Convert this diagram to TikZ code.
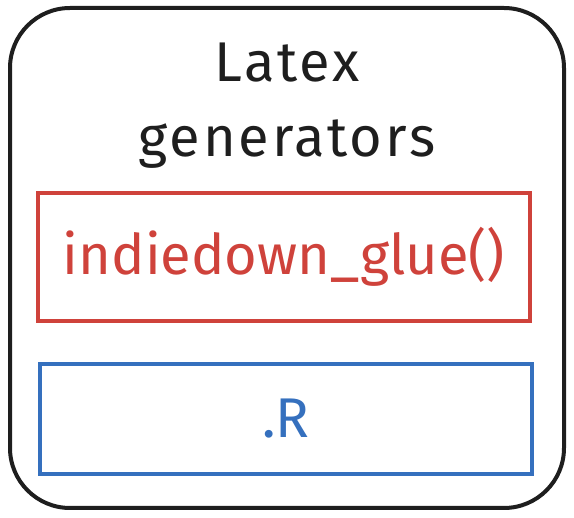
\documentclass[tikz,border=0pt]{standalone}
\usepackage{fontspec}
\setmainfont{Fira Sans}
\newfontfamily\wide[LetterSpace=5]{Fira Sans}
\usepackage{xcolor}
\usetikzlibrary{positioning}
\definecolor{inkblack}{HTML}{1E1E1E}
\definecolor{inkred}{HTML}{CF423B}
\definecolor{inkblue}{HTML}{3570BE}
\tikzset{%
  % boxes
  frame/.style={draw=inkblack, line width=4pt, rounded corners=60pt},
  box/.style={draw, line width=4pt, align=center, inner sep=0pt},
  gluebox/.style={box, draw=inkred, text=inkred},
  rbox/.style={box, draw=inkblue, text=inkblue},
  % text
  big/.style={font=\fontsize{56}{75}\selectfont},
  headline/.style={font=\wide\fontsize{56}{75}\selectfont},
}

\begin{document}
\begin{tikzpicture}[x=1pt, y=-1pt]
  \useasboundingbox (0,0) rectangle (574,518);

  \node[frame, minimum width=554pt, minimum height=500pt] (outer) at (287,258) {};
  \node[headline, align=center, text=inkblack] (title) at (287,106) {Latex\\generators};

  \node[gluebox, big, minimum width=492pt, minimum height=128pt] (glue) at (284,257) {indiedown\_glue()};
  \node[rbox, big, minimum width=492pt, minimum height=110pt] (rfile) at (286,419) {.R};

\end{tikzpicture}
\end{document}
